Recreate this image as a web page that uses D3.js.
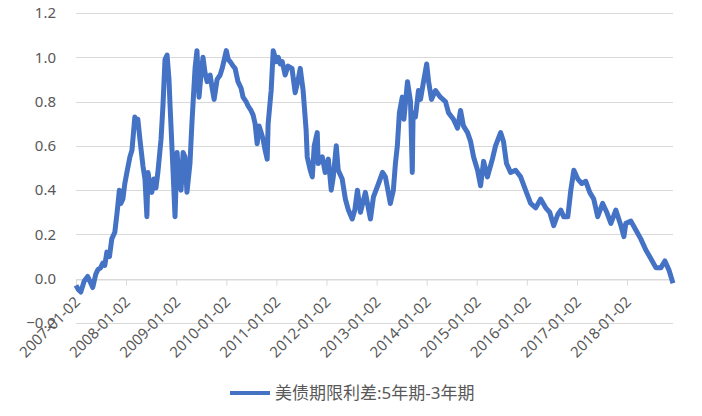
<!DOCTYPE html>
<html>
<head>
<meta charset="utf-8">
<script src="https://cdn.jsdelivr.net/npm/d3@7"></script>
<style>
  body { margin: 0; background: #fff; }
  svg text { font-family: "Noto Sans", "Noto Sans CJK SC", sans-serif; fill: #595959; }
</style>
</head>
<body>
<script>
// 5y - 3y treasury spread -------------------------------------------------
var seriesName = "美债期限利差:5年期-3年期";
var dates = [
  "2007-01-02","2007-01-20","2007-02-06","2007-03-03","2007-03-28","2007-04-20","2007-05-04","2007-05-26",
  "2007-06-10","2007-07-01","2007-07-16","2007-07-31","2007-08-15","2007-09-03","2007-09-20","2007-10-12",
  "2007-10-27","2007-11-03","2007-11-14","2007-11-25","2007-12-10","2007-12-24","2008-01-08","2008-01-30",
  "2008-02-14","2008-02-21","2008-03-06","2008-03-21","2008-03-28","2008-04-12","2008-05-04","2008-05-19",
  "2008-06-02","2008-06-10","2008-06-25","2008-07-08","2008-07-23","2008-08-07","2008-08-21","2008-09-13",
  "2008-09-27","2008-10-12","2008-10-27","2008-11-10","2008-11-18","2008-12-10","2008-12-24","2009-01-08",
  "2009-01-23","2009-02-06","2009-02-21","2009-03-07","2009-03-21","2009-04-12","2009-04-26","2009-05-19",
  "2009-06-02","2009-06-17","2009-07-01","2009-07-16","2009-07-31","2009-08-15","2009-09-06","2009-09-21",
  "2009-10-05","2009-10-27","2009-11-18","2009-12-03","2010-01-02","2010-01-16","2010-01-30","2010-02-21",
  "2010-03-07","2010-03-28","2010-04-20","2010-05-04","2010-05-26","2010-06-10","2010-07-01","2010-07-16",
  "2010-07-31","2010-08-15","2010-08-29","2010-09-13","2010-09-27","2010-10-12","2010-10-27","2010-11-03",
  "2010-11-25","2010-12-10","2011-01-02","2011-01-16","2011-01-30","2011-02-14","2011-03-07","2011-03-28",
  "2011-04-26","2011-05-19","2011-06-10","2011-06-25","2011-07-16","2011-08-07","2011-08-15","2011-09-06",
  "2011-09-21","2011-10-05","2011-10-27","2011-11-03","2011-12-03","2011-12-24","2012-01-16","2012-02-06",
  "2012-02-21","2012-03-14","2012-03-28","2012-04-26","2012-05-19","2012-06-10","2012-07-08","2012-07-27",
  "2012-08-15","2012-09-06","2012-10-12","2012-11-18","2012-12-10","2013-01-16","2013-02-14","2013-03-07",
  "2013-03-28","2013-04-12","2013-05-04","2013-05-19","2013-06-02","2013-06-17","2013-07-08","2013-07-20",
  "2013-08-15","2013-09-06","2013-09-19","2013-09-25","2013-10-12","2013-11-03","2013-11-18","2013-12-10",
  "2014-01-02","2014-01-16","2014-02-06","2014-03-07","2014-04-12","2014-05-19","2014-06-10","2014-07-16",
  "2014-08-15","2014-09-06","2014-09-27","2014-10-27","2014-11-18","2014-12-10","2015-01-08","2015-01-30",
  "2015-02-21","2015-03-21","2015-04-26","2015-05-19","2015-06-25","2015-07-16","2015-08-07","2015-09-06",
  "2015-10-12","2015-11-18","2015-12-24","2016-01-30","2016-03-07","2016-04-12","2016-05-19","2016-06-17",
  "2016-07-16","2016-08-15","2016-09-06","2016-09-27","2016-10-27","2016-11-18","2016-12-10","2017-01-08",
  "2017-02-06","2017-03-07","2017-04-05","2017-05-04","2017-06-02","2017-07-08","2017-08-07","2017-09-06",
  "2017-10-12","2017-11-18","2017-12-10","2017-12-24","2018-01-30","2018-03-07","2018-04-12","2018-05-19",
  "2018-06-25","2018-07-31","2018-09-06","2018-10-05","2018-11-03","2018-12-03"
];
var spread = [
  -0.03,-0.05,-0.06,-0.01,0.01,-0.02,-0.04,0.02,
  0.04,0.05,0.07,0.06,0.12,0.10,0.18,0.21,
  0.29,0.33,0.40,0.34,0.36,0.43,0.48,0.55,
  0.58,0.63,0.73,0.70,0.72,0.63,0.51,0.45,
  0.28,0.48,0.42,0.39,0.45,0.41,0.48,0.63,
  0.78,0.99,1.01,0.90,0.78,0.48,0.28,0.57,
  0.44,0.40,0.57,0.55,0.39,0.52,0.70,0.95,
  1.03,0.82,0.92,1.00,0.93,0.89,0.92,0.86,
  0.81,0.90,0.92,0.95,1.03,0.99,0.98,0.96,
  0.95,0.89,0.86,0.82,0.80,0.78,0.76,0.74,
  0.70,0.61,0.69,0.66,0.63,0.58,0.54,0.70,
  0.85,1.03,0.98,1.00,0.97,0.98,0.92,0.96,
  0.95,0.84,0.90,0.95,0.85,0.67,0.55,0.49,
  0.46,0.60,0.66,0.52,0.55,0.48,0.54,0.40,
  0.46,0.60,0.49,0.45,0.36,0.31,0.27,0.31,
  0.40,0.30,0.39,0.27,0.37,0.43,0.48,0.46,
  0.39,0.34,0.40,0.52,0.60,0.75,0.82,0.72,
  0.89,0.80,0.48,0.75,0.73,0.85,0.81,0.89,
  0.97,0.89,0.81,0.85,0.82,0.80,0.75,0.72,
  0.68,0.76,0.69,0.66,0.62,0.55,0.49,0.42,
  0.53,0.46,0.54,0.60,0.66,0.62,0.52,0.48,
  0.49,0.46,0.40,0.34,0.32,0.36,0.32,0.30,
  0.24,0.29,0.31,0.28,0.28,0.40,0.49,0.45,
  0.43,0.44,0.39,0.36,0.28,0.34,0.30,0.25,
  0.31,0.24,0.19,0.25,0.26,0.22,0.18,0.13,
  0.09,0.05,0.05,0.08,0.04,-0.02
];
var yTicks = [-0.2, 0, 0.2, 0.4, 0.6, 0.8, 1.0, 1.2];
var xTickLabels = ["2007-01-02","2008-01-02","2009-01-02","2010-01-02","2011-01-02","2012-01-02",
  "2013-01-02","2014-01-02","2015-01-02","2016-01-02","2017-01-02","2018-01-02"];

// Layout ------------------------------------------------------------------
var width = 702, height = 416;
var plotLeft = 76, plotRight = 673, plotTop = 13, plotBottom = 323;
var parse = d3.timeParse("%Y-%m-%d");
var data = dates.map(function(d, i) { return { date: parse(d), value: spread[i] }; });

var svg = d3.select("body").append("svg")
  .attr("width", width)
  .attr("height", height);

var x = d3.scaleTime()
  .domain([parse(dates[0]), parse(dates[dates.length - 1])])
  .range([plotLeft, plotRight]);

var y = d3.scaleLinear()
  .domain([-0.2, 1.2])
  .range([plotBottom, plotTop]);

// Gridlines
svg.append("g")
  .selectAll("line")
  .data(yTicks)
  .enter().append("line")
  .attr("x1", plotLeft)
  .attr("x2", plotRight)
  .attr("y1", function(d) { return Math.round(y(d)) + 0.5; })
  .attr("y2", function(d) { return Math.round(y(d)) + 0.5; })
  .style("stroke", "#d9d9d9")
  .style("stroke-width", 1);

// Y axis labels
var yAxis = d3.axisLeft(y).tickValues(yTicks).tickSize(0).tickPadding(0)
  .tickFormat(d3.format(".1f"));
svg.append("g")
  .attr("transform", "translate(" + (plotLeft - 20) + ",0)")
  .call(yAxis)
  .call(function(g) { g.select(".domain").remove(); })
  .selectAll("text")
  .style("font-size", "15px")
  .style("fill", "#595959");

// X axis on the zero line
var xAxis = d3.axisBottom(x)
  .tickValues(xTickLabels.map(parse))
  .tickSize(6)
  .tickSizeOuter(0)
  .tickFormat(d3.timeFormat("%Y-%m-%d"));
var gx = svg.append("g")
  .attr("transform", "translate(0," + (Math.round(y(0)) + 0.5) + ")")
  .call(xAxis);
gx.select(".domain").style("stroke", "#d9d9d9");
gx.selectAll(".tick line").style("stroke", "#d9d9d9");
gx.selectAll(".tick text")
  .attr("text-anchor", "end")
  .attr("dy", "0.35em")
  .attr("transform", "translate(-2,17) rotate(-45)")
  .attr("x", 0)
  .attr("y", 4)
  .style("font-size", "15px")
  .style("fill", "#595959");

// Series line
var line = d3.line()
  .x(function(d) { return x(d.date); })
  .y(function(d) { return y(d.value); });

svg.append("path")
  .datum(data)
  .attr("d", line)
  .style("fill", "none")
  .style("stroke", "#4472c4")
  .style("stroke-width", 5)
  .style("stroke-linejoin", "round");

// Legend
var legend = svg.append("g").attr("transform", "translate(230,393)");
legend.append("line")
  .attr("x1", 0).attr("x2", 40)
  .style("stroke", "#4472c4")
  .style("stroke-width", 4);
legend.append("text")
  .attr("x", 45)
  .attr("dy", "0.35em")
  .style("font-size", "17px")
  .text(seriesName);
</script>
</body>
</html>
